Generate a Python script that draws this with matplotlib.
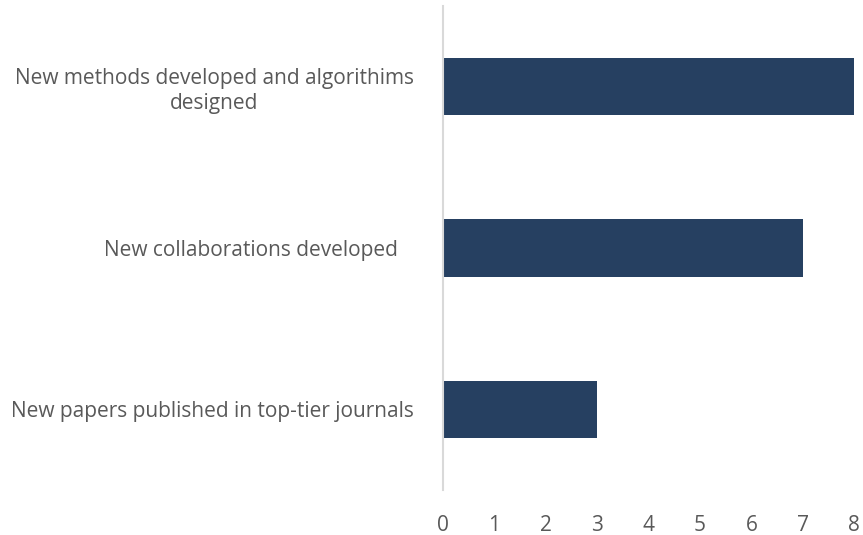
import matplotlib.pyplot as plt

categories = ['New papers published in top-tier journals',
              'New collaborations developed   ',
              'New methods developed and algorithims\ndesigned']
values = [3, 7, 8]
x_ticks = [0, 1, 2, 3, 4, 5, 6, 7, 8]

plt.rcParams['font.family'] = ['Open Sans', 'DejaVu Sans']

fig = plt.figure(figsize=(8.63, 5.35), dpi=100)
ax = fig.add_axes([0.5133, 0.0841, 0.4767, 0.9047])

ax.barh(range(len(categories)), values, height=0.354, color='#264061')
ax.set_xlim(0, 8)
ax.set_ylim(-0.5, 2.5)
ax.set_xticks(x_ticks)
ax.set_yticks(range(len(categories)))
ax.set_yticklabels(categories, multialignment='center', linespacing=1.25)

for side in ['top', 'right', 'bottom']:
    ax.spines[side].set_visible(False)
ax.spines['left'].set_color('#d9d9d9')
ax.spines['left'].set_linewidth(1.5)

ax.tick_params(axis='y', length=0, pad=21, labelsize=15, labelcolor='#595959')
ax.tick_params(axis='x', length=0, pad=18, labelsize=15, labelcolor='#595959')

plt.savefig('out.png')
